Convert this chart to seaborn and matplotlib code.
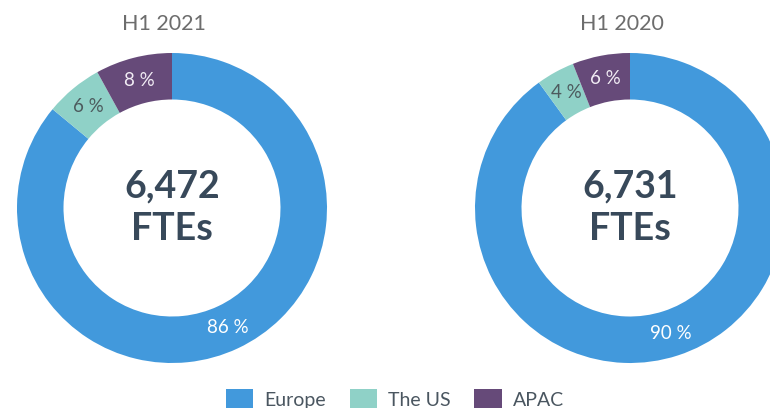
import numpy as np
import matplotlib
matplotlib.use('Agg')
import matplotlib.pyplot as plt
import seaborn as sns
from matplotlib.patches import Patch

sns.set_theme(style='white')
plt.rcParams['font.family'] = ['Lato', 'DejaVu Sans']

# 데이터
regions = ['Europe', 'The US', 'APAC']
share_2021 = [86, 6, 8]
share_2020 = [90, 4, 6]
titles = ['H1 2021', 'H1 2020']
totals = ['6,472', '6,731']
center_unit = 'FTEs'

colors = sns.color_palette(['#4299dc', '#8fd1c7', '#664a79'])
label_colors = ['#ffffff', '#4d5b5e', '#f1ecf4']

fig = plt.figure(figsize=(7.7, 4.08), dpi=100)
# 도넛 위치 (figure 비율)
boxes = [[17 / 770, 45 / 408, 310 / 770, 310 / 408],
         [475 / 770, 45 / 408, 310 / 770, 310 / 408]]

for box, vals, title, total in zip(boxes, [share_2021, share_2020], titles, totals):
    ax = fig.add_axes(box)
    wedges, _ = ax.pie(vals, colors=colors, startangle=90, counterclock=False,
                       radius=1, wedgeprops=dict(width=0.3, linewidth=0))
    # 퍼센트 라벨
    for w, v, c in zip(wedges, vals, label_colors):
        ang = np.deg2rad((w.theta1 + w.theta2) / 2)
        ax.text(0.85 * np.cos(ang), 0.85 * np.sin(ang), '%d %%' % v,
                ha='center', va='center', color=c, fontsize=13.5)
    ax.text(-0.05, 1.148, title, ha='center', va='baseline', fontsize=15.5, color='#6d6d6d')
    ax.text(0, 0.065, total, ha='center', va='baseline', fontsize=27,
            fontweight='bold', color='#38495a')
    ax.text(0, -0.206, center_unit, ha='center', va='baseline', fontsize=27,
            fontweight='bold', color='#38495a')
    ax.set_xlim(-1, 1)
    ax.set_ylim(-1, 1)
    ax.set_aspect('equal')
    ax.axis('off')

handles = [Patch(facecolor=c, edgecolor='none') for c in colors]
leg = fig.legend(handles, regions, loc='center', bbox_to_anchor=(0.513, 0.022), ncol=3,
                 frameon=False, fontsize=14, handlelength=1.4, handleheight=1.2,
                 columnspacing=1.2, handletextpad=0.6, labelcolor='#4a5660')

fig.savefig('out.png', dpi=100)
